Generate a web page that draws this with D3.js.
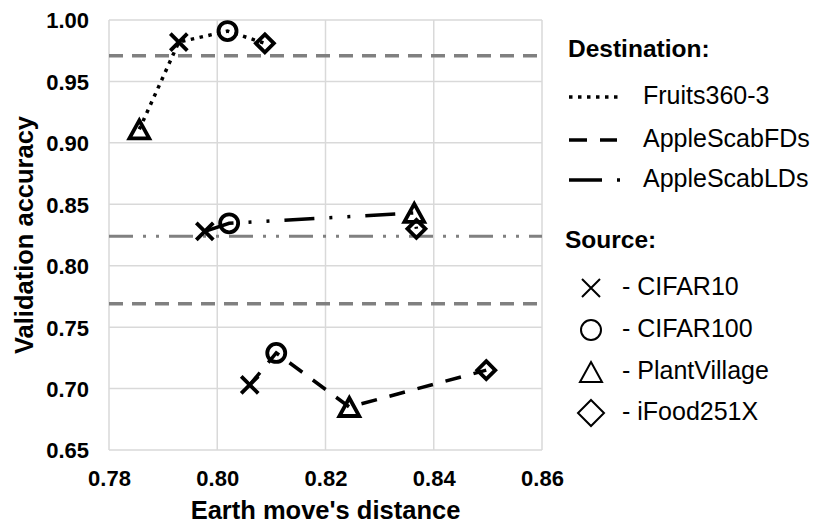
<!DOCTYPE html>
<html>
<head>
<meta charset="utf-8">
<script src="https://cdn.jsdelivr.net/npm/d3@7"></script>
<style>
  body { margin: 0; background: #fff; }
  text { font-family: "Liberation Sans", Arial, sans-serif; fill: #000; }
</style>
</head>
<body>
<div id="chart"></div>
<script>
// Data
const sources = ["CIFAR10", "CIFAR100", "PlantVillage", "iFood251X"];
const destinations = ["Fruits360-3", "AppleScabFDs", "AppleScabLDs"];

const fruitsEmd = [0.7929, 0.8019, 0.7856, 0.8088];
const fruitsAcc = [0.982, 0.991, 0.911, 0.981];
const fdsEmd = [0.8060, 0.8109, 0.8244, 0.8497];
const fdsAcc = [0.703, 0.729, 0.685, 0.715];
const ldsEmd = [0.7977, 0.8022, 0.8364, 0.8368];
const ldsAcc = [0.828, 0.8345, 0.843, 0.830];

// horizontal gray reference levels (Fruits, FDs, LDs)
const baselineAcc = [0.971, 0.769, 0.824];

const xTicks = [0.78, 0.80, 0.82, 0.84, 0.86];
const yTicks = [0.65, 0.70, 0.75, 0.80, 0.85, 0.90, 0.95, 1.00];

const width = 816, height = 524;
const margin = { top: 20, left: 109, right: 274, bottom: 74 };
const innerW = width - margin.left - margin.right;
const innerH = height - margin.top - margin.bottom;

const svg = d3.select("#chart").append("svg")
  .attr("width", width)
  .attr("height", height);

const x = d3.scaleLinear().domain([0.78, 0.86]).range([margin.left, margin.left + innerW]);
const y = d3.scaleLinear().domain([0.65, 1.00]).range([margin.top + innerH, margin.top]);

// grid
const grid = svg.append("g");
grid.selectAll("line.gx")
  .data(xTicks)
  .join("line")
  .attr("x1", d => x(d)).attr("x2", d => x(d))
  .attr("y1", y(0.65)).attr("y2", y(1.00))
  .attr("stroke", "#d9d9d9").attr("stroke-width", 1.5);
grid.selectAll("line.gy")
  .data(yTicks)
  .join("line")
  .attr("x1", x(0.78)).attr("x2", x(0.86))
  .attr("y1", d => y(d)).attr("y2", d => y(d))
  .attr("stroke", "#d9d9d9").attr("stroke-width", 1.5);

// axes (labels only, lines come from the grid)
const xAxis = svg.append("g")
  .attr("transform", `translate(0,${y(0.65)})`)
  .call(d3.axisBottom(x).tickValues(xTicks).tickFormat(d3.format(".2f")).tickSize(0).tickPadding(20));
const yAxis = svg.append("g")
  .attr("transform", `translate(${x(0.78)},0)`)
  .call(d3.axisLeft(y).tickValues(yTicks).tickFormat(d3.format(".2f")).tickSize(0).tickPadding(20));
[xAxis, yAxis].forEach(a => {
  a.select(".domain").remove();
  a.selectAll("text")
    .style("font-size", "22px")
    .style("font-weight", "bold")
    .attr("fill", "#000");
});
yAxis.selectAll("text").attr("dy", "0.36em");

// axis titles
svg.append("text")
  .attr("x", (x(0.78) + x(0.86)) / 2)
  .attr("y", 519)
  .attr("text-anchor", "middle")
  .style("font-size", "25.5px")
  .style("font-weight", "bold")
  .text("Earth move's distance");
svg.append("text")
  .attr("transform", `translate(33,${(y(0.65) + y(1.00)) / 2}) rotate(-90)`)
  .attr("text-anchor", "middle")
  .style("font-size", "25.5px")
  .style("font-weight", "bold")
  .text("Validation accuracy");

// gray reference lines
const refDash = ["14,9", "14,9", "24,10,3,10,3,10"];
const refWidth = [3.5, 3.5, 3];
svg.append("g").selectAll("line")
  .data(baselineAcc)
  .join("line")
  .attr("x1", x(0.78)).attr("x2", x(0.86))
  .attr("y1", d => y(d)).attr("y2", d => y(d))
  .attr("stroke", "#808080")
  .attr("stroke-width", (d, i) => refWidth[i])
  .attr("stroke-dasharray", (d, i) => refDash[i]);

// series
const seriesDash = ["3.5,5.5", "16,13", "30,15,3,15,3,15"];
const series = [
  { emd: fruitsEmd, acc: fruitsAcc },
  { emd: fdsEmd, acc: fdsAcc },
  { emd: ldsEmd, acc: ldsAcc }
];

const line = d3.line().x(d => x(d.emd)).y(d => y(d.acc));

// marker shapes: X, circle, triangle, diamond
function markerPath(k, s) {
  const p = d3.path();
  if (k === 0) {
    p.moveTo(-s, -s); p.lineTo(s, s);
    p.moveTo(-s, s); p.lineTo(s, -s);
  } else if (k === 1) {
    p.moveTo(s, 0); p.arc(0, 0, s, 0, 2 * Math.PI);
  } else if (k === 2) {
    const w = s * 1.1, h = s * 1.0;
    p.moveTo(0, -h); p.lineTo(w, h); p.lineTo(-w, h); p.closePath();
  } else {
    p.moveTo(0, -s); p.lineTo(s, 0); p.lineTo(0, s); p.lineTo(-s, 0); p.closePath();
  }
  return p.toString();
}

series.forEach((s, si) => {
  const pts = sources.map((src, i) => ({ src: i, emd: s.emd[i], acc: s.acc[i] }))
    .sort((a, b) => a.emd - b.emd);
  svg.append("path")
    .datum(pts)
    .attr("d", line)
    .attr("fill", "none")
    .attr("stroke", "#000")
    .attr("stroke-width", 3.5)
    .attr("stroke-dasharray", seriesDash[si]);
  svg.append("g").selectAll("path")
    .data(pts)
    .join("path")
    .attr("transform", d => `translate(${x(d.emd)},${y(d.acc)})`)
    .attr("d", d => markerPath(d.src, d.src === 0 ? 8.5 : 9))
    .attr("fill", "none")
    .attr("stroke", "#000")
    .attr("stroke-width", 3.8)
    .attr("stroke-linejoin", "miter");
});

// legend
const lg = svg.append("g");
lg.append("text")
  .attr("x", 568).attr("y", 57)
  .style("font-size", "24.5px").style("font-weight", "bold")
  .text("Destination:");

const destY = [97, 140, 180];
const destSampleDash = ["3.5,5.5", "18,13", "33,15,3,15"];
const destSampleLen = [53, 48, 53];
destinations.forEach((d, i) => {
  lg.append("line")
    .attr("x1", 569).attr("x2", 569 + destSampleLen[i])
    .attr("y1", destY[i]).attr("y2", destY[i])
    .attr("stroke", "#000").attr("stroke-width", 3.5)
    .attr("stroke-dasharray", destSampleDash[i]);
  lg.append("text")
    .attr("x", 643).attr("y", destY[i] + 7)
    .style("font-size", "25px")
    .text(d);
});

lg.append("text")
  .attr("x", 565).attr("y", 248)
  .style("font-size", "24.5px").style("font-weight", "bold")
  .text("Source:");

const srcY = [288, 330, 372, 413];
const srcSize = [9, 10, 10, 13];
sources.forEach((s, i) => {
  lg.append("path")
    .attr("transform", `translate(591,${srcY[i]})`)
    .attr("d", markerPath(i, srcSize[i]))
    .attr("fill", "none")
    .attr("stroke", "#000")
    .attr("stroke-width", 2);
  lg.append("text")
    .attr("x", 622).attr("y", srcY[i] + 7)
    .style("font-size", "25px")
    .text("- " + s);
});
</script>
</body>
</html>
